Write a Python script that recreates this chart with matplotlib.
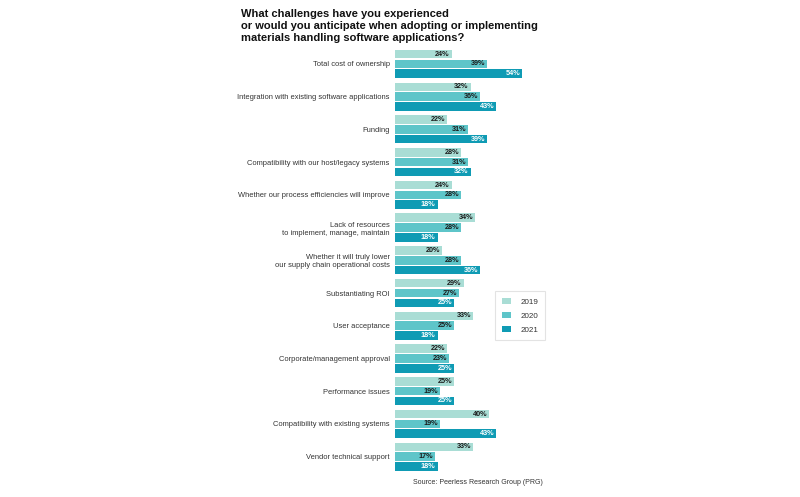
import matplotlib
matplotlib.use('Agg')
import matplotlib.pyplot as plt
import numpy as np

plt.rcParams['font.family'] = ['Liberation Sans', 'DejaVu Sans']

categories = [
    'Total cost of ownership',
    'Integration with existing software applications',
    'Funding',
    'Compatibility with our host/legacy systems',
    'Whether our process efficiencies will improve',
    'Lack of resources\nto implement, manage, maintain',
    'Whether it will truly lower\nour supply chain operational costs',
    'Substantiating ROI',
    'User acceptance',
    'Corporate/management approval',
    'Performance issues',
    'Compatibility with existing systems',
    'Vendor technical support',
]
years = ['2019', '2020', '2021']
v2019 = [24, 32, 22, 28, 24, 34, 20, 29, 33, 22, 25, 40, 33]
v2020 = [39, 36, 31, 31, 28, 28, 28, 27, 25, 23, 19, 19, 17]
v2021 = [54, 43, 39, 32, 18, 18, 36, 25, 18, 25, 25, 43, 18]

colors = ['#a9ddd5', '#5ec5c9', '#0f9bb4']
text_colors = ['#1a1a1a', '#1a1a1a', 'white']

fig = plt.figure(figsize=(8, 4.97), dpi=100)
ax = fig.add_axes([0.494, 0.0483, 0.184, 0.856])

y = np.arange(len(categories))
offsets = [-0.3, 0, 0.3]
for vals, off, c, tc, yr in zip([v2019, v2020, v2021], offsets, colors, text_colors, years):
    bars = ax.barh(y + off, vals, height=0.26, color=c, label=yr)
    for b, v in zip(bars, vals):
        ax.text(b.get_width() - 0.8, b.get_y() + b.get_height() / 2, f'{v}%',
                ha='right', va='center', fontsize=5.2, fontweight='bold', color=tc)

ax.set_xlim(0, 62.5)
ax.set_ylim(12.5, -0.5)
ax.set_yticks(y)
ax.set_yticklabels(categories, fontsize=5.4, color='#333333', ha='right')
ax.tick_params(axis='y', length=0, pad=4)
ax.set_xticks([])
for s in ax.spines.values():
    s.set_visible(False)

leg = ax.legend(loc='upper left', bbox_to_anchor=(0.68, 0.427), fontsize=5.8,
                frameon=True, fancybox=False, edgecolor='#dddddd',
                handlelength=1.2, handleheight=0.8, labelspacing=0.75,
                borderpad=0.8, handletextpad=1.1, borderaxespad=0)
leg.get_frame().set_linewidth(0.8)
for t in leg.get_texts():
    t.set_color('#333333')

fig.text(0.301, 1 - 9 / 497,
         'What challenges have you experienced\n'
         'or would you anticipate when adopting or implementing\n'
         'materials handling software applications?',
         ha='left', va='top', fontsize=8, fontweight='bold', color='#111111',
         linespacing=1.25)

fig.text(0.678, 1 - 482 / 497, 'Source: Peerless Research Group (PRG)',
         ha='right', va='center', fontsize=5, color='#333333')

fig.savefig('out.png', dpi=100)
